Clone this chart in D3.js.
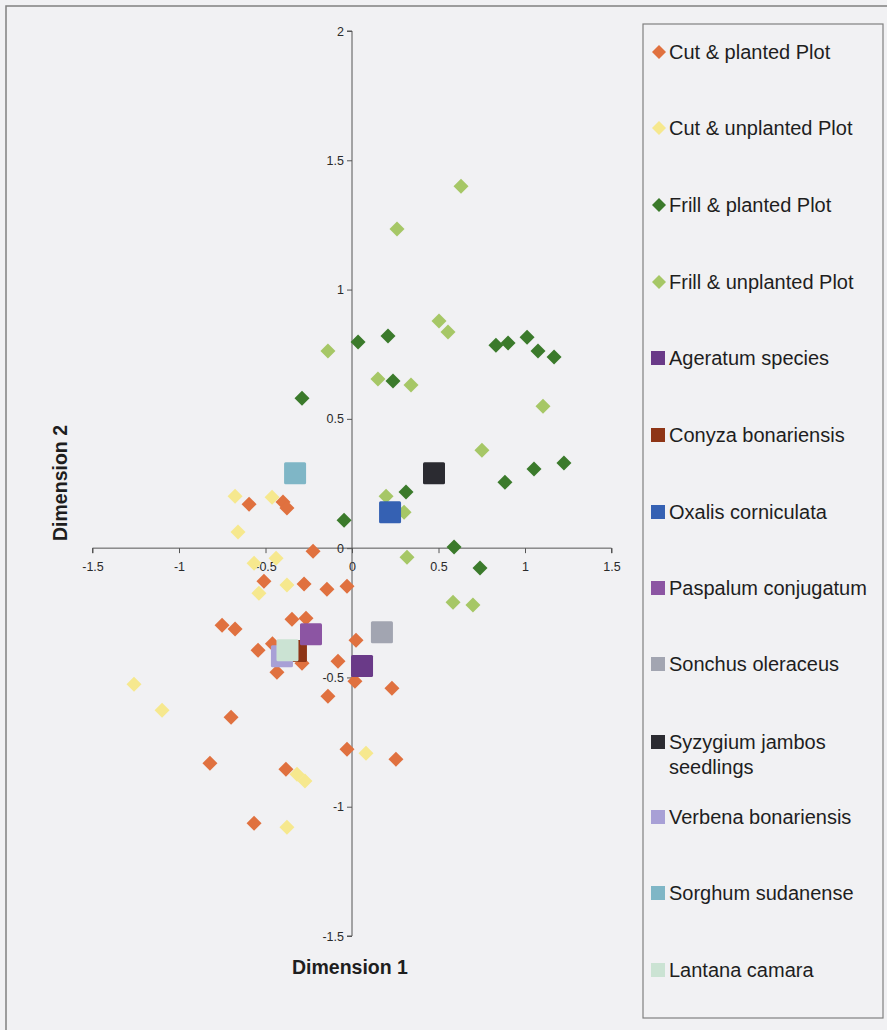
<!DOCTYPE html>
<html><head><meta charset="utf-8">
<script src="https://cdn.jsdelivr.net/npm/d3@7"></script>
<style>
html,body{margin:0;padding:0;background:#f1f1f3;}
svg{display:block;font-family:"Liberation Sans",Arial,sans-serif;}
</style></head>
<body>
<svg id="chart" width="887" height="1030"></svg>
<script>
// ---- Data ----
const xTicks = [-1.5, -1, -0.5, 0, 0.5, 1, 1.5];
const yTicks = [-1.5, -1, -0.5, 0, 0.5, 1, 1.5, 2];

const cutPlanted = [
  [-0.595,0.170],[-0.399,0.178],[-0.376,0.155],[-0.225,-0.012],[-0.509,-0.128],
  [-0.277,-0.139],[-0.145,-0.159],[-0.029,-0.147],[-0.751,-0.298],[-0.676,-0.313],
  [-0.347,-0.275],[-0.266,-0.271],[0.023,-0.356],[-0.543,-0.395],[-0.434,-0.480],
  [-0.289,-0.445],[-0.081,-0.437],[0.017,-0.515],[-0.139,-0.573],[0.231,-0.542],
  [-0.699,-0.654],[-0.029,-0.778],[0.254,-0.816],[-0.821,-0.832],[-0.382,-0.855],
  [-0.566,-1.064],[-0.46,-0.37]
];
const cutUnplanted = [
  [-0.676,0.201],[-0.462,0.197],[-0.659,0.062],[-0.566,-0.058],[-0.439,-0.039],
  [-0.376,-0.143],[-0.538,-0.174],[-1.260,-0.526],[-1.098,-0.627],[0.081,-0.793],
  [-0.318,-0.874],[-0.272,-0.901],[-0.376,-1.079]
];
const frillPlanted = [
  [0.035,0.797],[0.208,0.820],[0.237,0.646],[0.832,0.785],[0.902,0.793],
  [1.012,0.816],[1.075,0.762],[1.168,0.739],[-0.289,0.580],[0.312,0.217],
  [-0.046,0.108],[1.052,0.306],[1.225,0.329],[0.884,0.255],[0.590,0.004],[0.740,-0.077]
];
const frillUnplanted = [
  [0.630,1.400],[0.260,1.234],[0.503,0.878],[0.555,0.836],[0.150,0.654],
  [0.341,0.631],[-0.139,0.762],[1.104,0.549],[0.751,0.379],[0.197,0.201],
  [0.301,0.139],[0.318,-0.035],[0.584,-0.209],[0.699,-0.220]
];
const speciesNames = ["Ageratum species","Conyza bonariensis","Oxalis corniculata","Paspalum conjugatum",
  "Sonchus oleraceus","Syzygium jambos seedlings","Verbena bonariensis","Sorghum sudanense","Lantana camara"];
const speciesX = [0.058,-0.324,0.220,-0.237,0.173,0.474,-0.405,-0.329,-0.373];
const speciesY = [-0.456,-0.398,0.139,-0.333,-0.325,0.290,-0.418,0.290,-0.395];

const plotNames = ["Cut & planted Plot","Cut & unplanted Plot","Frill & planted Plot","Frill & unplanted Plot"];
const plotColors = ["#e0713f","#f6e88e","#3b7a2b","#a6c766"];
const speciesColors = ["#6a3a88","#8e3516","#3561b3","#8c55a3","#a2a5b1","#2b2b31","#a8a0d6","#7fb6c6","#cbe3d3"];

// ---- Setup ----
const svg = d3.select("#chart");
const x = d3.scaleLinear().domain([-1.5,1.5]).range([92.5,611.5]);
const y = d3.scaleLinear().domain([-1.5,2]).range([936,31]);

// outer frame
svg.append("rect").attr("x",6).attr("y",6).attr("width",900).attr("height",1100)
  .attr("fill","none").attr("stroke","#808080").attr("stroke-width",1.5);

// axes
const fmt = d => String(d);
const xAxis = d3.axisBottom(x).tickValues(xTicks).tickSize(5).tickFormat(fmt);
const yAxis = d3.axisLeft(y).tickValues(yTicks).tickSize(5).tickFormat(fmt);

const gx = svg.append("g").attr("transform",`translate(0,${y(0)})`).call(xAxis);
gx.select(".domain").attr("d",`M${x(-1.5)},5V0H${x(1.5)}V5`);
const gy = svg.append("g").attr("transform",`translate(${x(0)},0)`).call(yAxis);
gy.select(".domain").attr("d",`M-5,${y(2)}H0V${y(-1.5)}H-5`);
[gx,gy].forEach(g=>{
  g.selectAll(".domain,line").attr("stroke","#555").attr("stroke-width",1);
  g.selectAll("text").attr("font-size",12.5).attr("fill","#2a2a2a").attr("font-family","Liberation Sans, Arial, sans-serif");
});
gx.selectAll("text").attr("dy","1.2em");
gy.selectAll("text").attr("x",-8);

// axis titles
svg.append("text").attr("x",350).attr("y",974).attr("text-anchor","middle")
  .attr("font-size",19.5).attr("font-weight","bold").attr("fill","#1e1e1e").text("Dimension 1");
svg.append("text").attr("transform",`translate(67,483) rotate(-90)`).attr("text-anchor","middle")
  .attr("font-size",19.5).attr("font-weight","bold").attr("fill","#1e1e1e").text("Dimension 2");

// diamonds
const diamond = (cx,cy,r)=>`M${cx},${cy-r}L${cx+r},${cy}L${cx},${cy+r}L${cx-r},${cy}Z`;
const plotSeries = [cutPlanted,cutUnplanted,frillPlanted,frillUnplanted];
plotSeries.forEach((s,i)=>{
  svg.append("g").selectAll("path").data(s).join("path")
    .attr("d",d=>diamond(x(d[0]),y(d[1]),7.5))
    .attr("fill",plotColors[i]);
});

// squares
const sq = 22;
svg.append("g").selectAll("rect").data(speciesNames).join("rect")
  .attr("x",(d,i)=>x(speciesX[i])-sq/2).attr("y",(d,i)=>y(speciesY[i])-sq/2)
  .attr("width",sq).attr("height",sq).attr("rx",1.5)
  .attr("fill",(d,i)=>speciesColors[i]);

// legend
const lg = svg.append("g");
lg.append("rect").attr("x",643).attr("y",24).attr("width",240).attr("height",994)
  .attr("fill","#f1f1f3").attr("stroke","#808080").attr("stroke-width",1.2);
const legendItems = plotNames.map((n,i)=>({name:n,color:plotColors[i],type:"d"}))
  .concat(speciesNames.map((n,i)=>({name:n,color:speciesColors[i],type:"s"})));
const legY = [52,128,205,282,358,435,512,588,664,742,817,893,970];
legendItems.forEach((it,i)=>{
  const cy = legY[i];
  if(it.type==="d") lg.append("path").attr("d",diamond(659,cy,7)).attr("fill",it.color);
  else lg.append("rect").attr("x",651).attr("y",cy-7).attr("width",14).attr("height",14).attr("fill",it.color);
  const t = lg.append("text").attr("x",669).attr("y",cy+7).attr("font-size",20).attr("fill","#1e1e1e");
  if(it.name==="Syzygium jambos seedlings"){
    t.append("tspan").attr("x",669).text("Syzygium jambos");
    t.append("tspan").attr("x",669).attr("dy",25).text("seedlings");
  } else t.text(it.name);
});
</script>
</body></html>
